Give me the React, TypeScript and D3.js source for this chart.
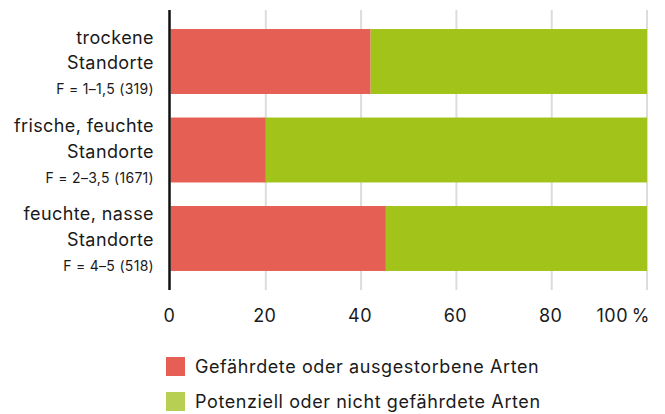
import React from "react";
import * as d3 from "d3";

// Feuchtezahl-Gruppen
const categories = ["trocken", "frisch", "nass"];
const labelLines = [
  ["trockene", "Standorte"],
  ["frische, feuchte", "Standorte"],
  ["feuchte, nasse", "Standorte"],
];
const subLabels = ["F = 1–1,5 (319)", "F = 2–3,5 (1671)", "F = 4–5 (518)"];

// Anteile in %
const threatened = [42, 20, 45.2];
const notThreatened = [58, 80, 54.8];

const ticks = [0, 20, 40, 60, 80, 100];
const seriesKeys = ["threatened", "notThreatened"];
const seriesNames = ["Gefährdete oder ausgestorbene Arten", "Potenziell oder nicht gefährdete Arten"];
const barColors = ["#e55f55", "#a2c41a"];
const legendColors = ["#e55f55", "#b7cf52"];

const width = 665;
const height = 414;
const font = "Inter, 'Noto Sans', sans-serif";

export default function App() {
  const x = d3.scaleLinear().domain([0, 100]).range([170.5, 647]);
  const y = d3
    .scaleBand<string>()
    .domain(categories)
    .range([10, 290])
    .paddingInner(0.266)
    .paddingOuter(0.215);

  const rows = categories.map((c, i) => ({
    cat: c,
    threatened: threatened[i],
    notThreatened: notThreatened[i],
  }));
  const stacked = d3.stack<any>().keys(seriesKeys)(rows);

  return (
    <svg
      width={width}
      height={height}
      style={{ position: "absolute", left: 0, top: 0, background: "#fff" }}
      fontFamily={font}
    >
      {/* gridlines */}
      {ticks.slice(1).map((t) => (
        <line key={t} x1={x(t)} x2={x(t)} y1={10} y2={290} stroke="#dcdcdc" strokeWidth={2} />
      ))}

      {/* bars */}
      {stacked.map((s, si) => (
        <g key={s.key} fill={barColors[si]}>
          {s.map((d, i) => (
            <rect
              key={i}
              x={x(d[0])}
              y={y(categories[i])}
              width={x(d[1]) - x(d[0])}
              height={y.bandwidth()}
            />
          ))}
        </g>
      ))}

      {/* axis line */}
      <line x1={169.5} x2={169.5} y1={10} y2={290} stroke="#111" strokeWidth={2.5} />

      {/* category labels */}
      {categories.map((c, i) => {
        const cy = (y(c) as number) + y.bandwidth() / 2;
        return (
          <g key={c} textAnchor="end" fill="#1a1a1a" letterSpacing={0.4}>
            <text x={154} y={cy - 18} fontSize={18}>{labelLines[i][0]}</text>
            <text x={154} y={cy + 7.5} fontSize={18}>{labelLines[i][1]}</text>
            <text x={154} y={cy + 32.5} fontSize={14} letterSpacing={0.3}>{subLabels[i]}</text>
          </g>
        );
      })}

      {/* x tick labels */}
      {ticks.map((t) => (
        <text
          key={t}
          x={t === 100 ? x(t) + 3 : x(t) - 1}
          y={322}
          fontSize={18}
          fill="#1a1a1a"
          letterSpacing={0.5}
          textAnchor={t === 100 ? "end" : "middle"}
        >
          {t === 100 ? "100\u2009%" : t}
        </text>
      ))}

      {/* legend */}
      {seriesNames.map((n, i) => (
        <g key={n} transform={`translate(166, ${357 + i * 35})`}>
          <rect width={19} height={19} fill={legendColors[i]} />
          <text x={29} y={16} fontSize={18} fill="#1a1a1a" letterSpacing={0.6}>{n}</text>
        </g>
      ))}
    </svg>
  );
}
